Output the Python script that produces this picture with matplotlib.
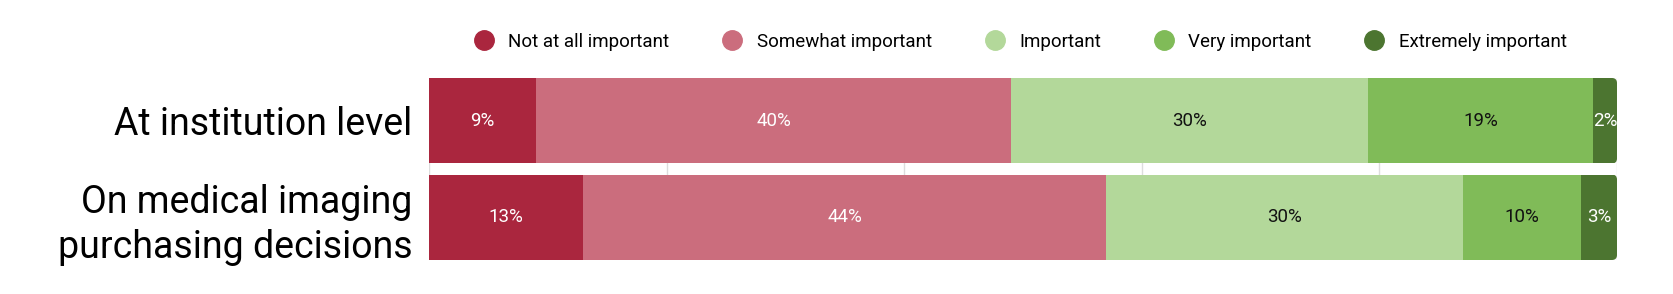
import matplotlib
matplotlib.use("Agg")
import matplotlib.pyplot as plt
from matplotlib.lines import Line2D
from matplotlib.patches import FancyBboxPatch

categories = ["At institution level", "On medical imaging\npurchasing decisions"]
levels = ["Not at all important", "Somewhat important", "Important",
          "Very important", "Extremely important"]
row1 = [9, 40, 30, 19, 2]
row2 = [13, 44, 30, 10, 3]
values = [row1, row2]
colors = ["#AA263E", "#CB6D7D", "#B3D89A", "#80BB58", "#4C7530"]
text_colors = ["white", "white", "#111111", "#111111", "white"]

plt.rcParams['font.family'] = ['Roboto', 'DejaVu Sans']

fig = plt.figure(figsize=(16.74, 2.94), dpi=100)
ax_top, ax_bot = 78, 260
ax = fig.add_axes([429/1674, 1 - ax_bot/294, (1617-429)/1674, (ax_bot-ax_top)/294])

bar_h = 0.885
ax.set_xlim(0, 100)
ax.set_ylim(1 + bar_h/2, -bar_h/2)
ax.set_xticks([0, 20, 40, 60, 80, 100])
ax.grid(axis='x', color='#DDDDDD', linewidth=1)
ax.set_axisbelow(True)
for s in ax.spines.values():
    s.set_visible(False)
ax.tick_params(axis='x', length=0, labelbottom=False)
ax.tick_params(axis='y', length=0, pad=12)
ax.set_yticks(range(len(categories)))
ax.set_yticklabels(categories, fontsize=27, linespacing=1.25)
for lbl in ax.get_yticklabels():
    lbl.set_va('center_baseline')

# pixel scale for rounded right corners
px_per_x = (1617 - 429) / 100
px_per_y = (ax_bot - ax_top) / (1 + bar_h)
radius_px = 5
rx = radius_px / px_per_x
aspect = (radius_px / px_per_y) / rx

for i, row in enumerate(values):
    clip = FancyBboxPatch((-10, i - bar_h/2), 110, bar_h,
                          boxstyle=f"round,pad=0,rounding_size={rx}",
                          mutation_aspect=aspect,
                          transform=ax.transData, facecolor='none', edgecolor='none')
    ax.add_patch(clip)
    left = 0
    for j, v in enumerate(row):
        rects = ax.barh(i, v, left=left, height=bar_h, color=colors[j], linewidth=0)
        for r in rects:
            r.set_clip_path(clip)
        ax.text(left + v / 2, i, f"{v}%", ha='center', va='center',
                fontsize=13.5, color=text_colors[j])
        left += v

handles = [Line2D([0], [0], marker='o', linestyle='none', markersize=14,
                  markerfacecolor=c, markeredgecolor=c) for c in colors]
fig.legend(handles, levels, loc='center', bbox_to_anchor=(1016/1674, 1 - 42/294),
           ncol=5, frameon=False, fontsize=13.5, handletextpad=0.3, columnspacing=2.35)

fig.savefig("out.png", dpi=100)
